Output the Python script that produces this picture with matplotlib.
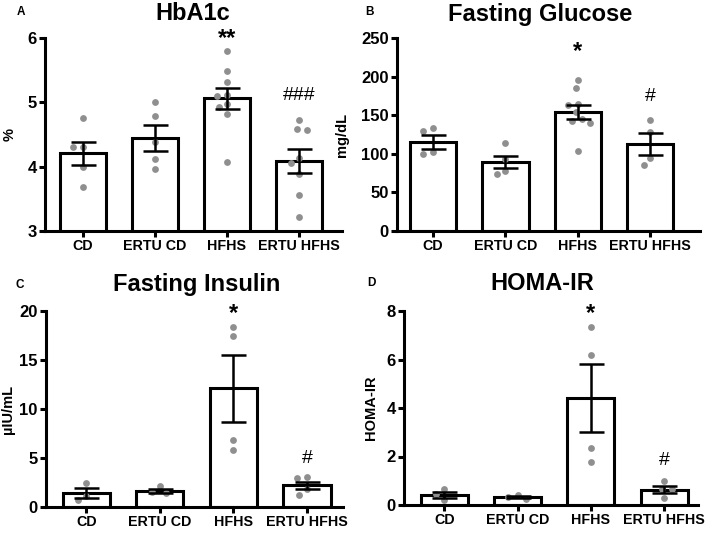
import numpy as np
import matplotlib
matplotlib.use("Agg")
import matplotlib.pyplot as plt

plt.rcParams['font.family'] = ['Liberation Sans', 'DejaVu Sans']
plt.rcParams['font.weight'] = 'bold'

groups = ["CD", "ERTU CD", "HFHS", "ERTU HFHS"]

# A - HbA1c (%)
hba1c_mean = [4.21, 4.45, 5.06, 4.09]
hba1c_sem = [0.18, 0.20, 0.16, 0.185]
hba1c_pts = [
    [4.76, 4.30, 4.30, 3.99, 3.68],
    [5.01, 4.79, 4.38, 4.12, 3.97],
    [5.80, 5.49, 5.32, 5.12, 5.10, 4.98, 4.92, 4.82, 4.08],
    [4.72, 4.59, 4.57, 4.14, 4.05, 3.88, 3.56, 3.22],
]
hba1c_marks = ["", "", "**", "###"]

# B - fasting glucose (mg/dL)
glu_mean = [115.5, 89.5, 154.5, 113.0]
glu_sem = [9.5, 7.6, 9.0, 14.0]
glu_pts = [
    [132.8, 129.8, 102.5, 99.5],
    [113.5, 93.0, 78.0, 74.0],
    [196, 185, 165, 163, 154, 145, 142, 140, 103],
    [144, 128, 94, 86],
]
glu_marks = ["", "", "*", "#"]

# C - fasting insulin (uIU/mL)
ins_mean = [1.45, 1.65, 12.1, 2.2]
ins_sem = [0.52, 0.22, 3.4, 0.4]
ins_pts = [
    [2.5, 1.15, 0.7],
    [2.1, 1.5, 1.45],
    [18.4, 17.5, 6.8, 5.8],
    [3.06, 2.96, 1.8, 1.2],
]
ins_marks = ["", "", "*", "#"]

# D - HOMA-IR
homa_mean = [0.41, 0.33, 4.4, 0.63]
homa_sem = [0.14, 0.04, 1.4, 0.15]
homa_pts = [
    [0.64, 0.44, 0.2],
    [0.41, 0.35, 0.26],
    [7.36, 6.2, 2.35, 1.76],
    [1.0, 0.65, 0.65, 0.29],
]
homa_marks = ["", "", "*", "#"]

W, H = 709, 534
fig = plt.figure(figsize=(W / 100, H / 100), dpi=100)


def px_axes(x0, x1, ytop, ybot):
    return fig.add_axes([x0 / W, 1 - ybot / H, (x1 - x0) / W, (ybot - ytop) / H])


def swarm(vals, ypx, xpx, d=8.5):
    # greedy beeswarm, offsets returned in data units of x
    vals = np.asarray(vals, float)
    placed = []
    off = np.zeros(len(vals))
    cands = [0]
    for k in range(1, 12):
        cands += [-k * 2.0, k * 2.0]
    for i in np.argsort(-vals):
        y = vals[i] * ypx
        for c in cands:
            if all((c - px) ** 2 + (y - py) ** 2 >= d * d for px, py in placed):
                break
        placed.append((c, y))
        off[i] = c / xpx
    return off


def panel(ax, mean, sem, pts, marks, ylim, yticks, ylabel, mark_y, xlim, label_x):
    x = np.arange(len(groups))
    ax.bar(x, mean, width=0.64, color="white", edgecolor="black", linewidth=2.2, zorder=1)
    bb = ax.get_window_extent()
    ypx = bb.height / (ylim[1] - ylim[0])
    xpx = bb.width / (xlim[1] - xlim[0])
    for i, p in enumerate(pts):
        ax.scatter(x[i] + swarm(p, ypx, xpx), p, s=24, color="#8f8f8f", zorder=2,
                   linewidths=0, clip_on=False)
    ax.errorbar(x, mean, yerr=sem, fmt="none", ecolor="black", elinewidth=1.8,
                capsize=9, capthick=1.8, zorder=3)
    for i, m in enumerate(marks):
        if m:
            if "#" in m:
                ax.text(x[i], mark_y[i], m, ha="center", va="center", fontsize=14,
                        fontweight="normal", clip_on=False)
            else:
                ax.text(x[i], mark_y[i], m, ha="center", va="top", fontsize=17,
                        fontweight="bold", clip_on=False)
    ax.set_xlim(*xlim)
    ax.set_ylim(*ylim)
    ax.set_xticks(x)
    ax.set_xticklabels(groups, fontsize=10.3, fontweight="bold")
    ax.set_yticks(yticks)
    ax.set_yticklabels([str(t) for t in yticks], fontsize=12, fontweight="bold")
    ax.spines["top"].set_visible(False)
    ax.spines["right"].set_visible(False)
    ax.spines["left"].set_linewidth(2.2)
    ax.spines["bottom"].set_linewidth(2.2)
    ax.tick_params(width=2.2, length=4, pad=2)
    ax.set_ylabel(ylabel, fontsize=10.5, fontweight="bold")
    ax.yaxis.set_label_coords(label_x, 0.5)


# star marks: y is the top of the glyph
axA = px_axes(45, 342, 38, 231)
panel(axA, hba1c_mean, hba1c_sem, hba1c_pts, hba1c_marks, (3, 6), [3, 4, 5, 6], "%",
      [0, 0, 6.17, 5.11], (-0.53, 3.6), -0.095)

axB = px_axes(397, 700, 38, 231)
panel(axB, glu_mean, glu_sem, glu_pts, glu_marks, (0, 250), [0, 50, 100, 150, 200, 250], "mg/dL",
      [0, 0, 247, 174], (-0.5, 3.69), -0.16)

axC = px_axes(46, 343, 311, 507)
panel(axC, ins_mean, ins_sem, ins_pts, ins_marks, (0, 20), [0, 5, 10, 15, 20], "\u00b5IU/mL",
      [0, 0, 20.9, 4.94], (-0.55, 3.49), -0.105)

axD = px_axes(404, 698, 311, 505)
panel(axD, homa_mean, homa_sem, homa_pts, homa_marks, (0, 8), [0, 2, 4, 6, 8], "HOMA-IR",
      [0, 0, 8.36, 1.85], (-0.55, 3.46), -0.09)

titles = [("HbA1c", 193, 14), ("Fasting Glucose", 540, 14),
          ("Fasting Insulin", 197, 285), ("HOMA-IR", 542, 284)]
for t, tx, ty in titles:
    fig.text(tx / W, 1 - ty / H, t, ha="center", va="center", fontsize=17, fontweight="bold")

letters = [("A", 21, 12), ("B", 370, 12), ("C", 20, 285), ("D", 371, 283)]
for t, tx, ty in letters:
    fig.text(tx / W, 1 - ty / H, t, ha="center", va="center", fontsize=8.5, fontweight="bold")

fig.savefig("out.png", dpi=100, facecolor="white")
